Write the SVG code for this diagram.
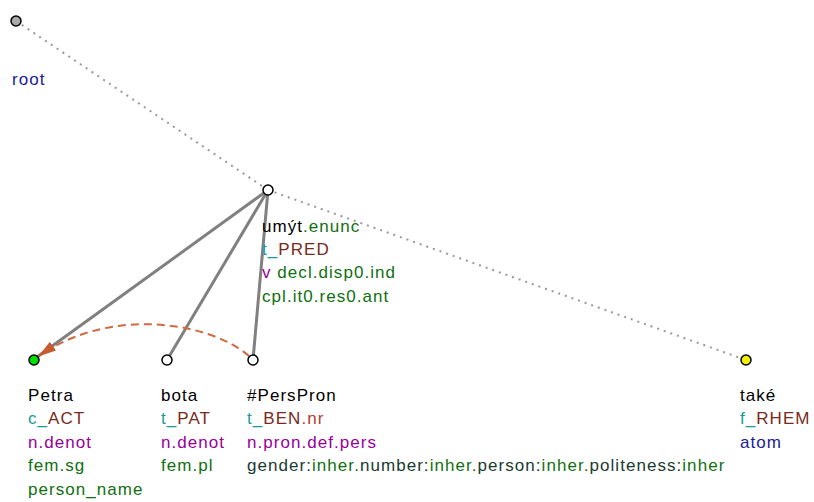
<svg xmlns="http://www.w3.org/2000/svg" width="814" height="502" viewBox="0 0 814 502">
<style>
text{font-family:"Liberation Sans",Arial,sans-serif;font-size:17px;letter-spacing:1.05px}
.k{fill:#000}.te{fill:#1a9a9a}.fn{fill:#7a2a1a}.pu{fill:#990099}.gr{fill:#107010}.nv{fill:#1a1a99}.dk{fill:#1a3a30}
.nd{stroke:#000;stroke-width:1.5}
.dot{stroke:#999;stroke-width:2;stroke-dasharray:2 5;fill:none}
.edge{stroke:#808080;stroke-width:3;fill:none;stroke-linecap:round}
</style>
<defs>
<marker id="ah" viewBox="0 0 10 10" refX="9.5" refY="5" markerWidth="9" markerHeight="9" orient="auto" markerUnits="strokeWidth">
<path d="M0,2L10,5L0,8z" fill="#c85a30"/>
</marker>
</defs>
<g id="connectors">
<line class="dot" x1="16" y1="21" x2="268" y2="190"/>
<line class="dot" x1="268" y1="190" x2="746" y2="360"/>
<line class="edge" x1="268" y1="190" x2="37" y2="357"/>
<line class="edge" x1="268" y1="190" x2="167" y2="360"/>
<line class="edge" x1="268" y1="190" x2="253" y2="360"/>
<path d="M249,356 C210,322 110,306 39,356" stroke="#d06a40" stroke-width="2" stroke-dasharray="8 5" fill="none" marker-end="url(#ah)"/>
</g>
<g id="root">
<circle cx="16" cy="21" r="5" fill="#aaa" class="nd"/>
<text x="12" y="85" class="nv">root</text>
</g>
<g id="umyt">
<circle cx="268" cy="190" r="5" fill="#fff" class="nd"/>
<text x="262" y="232"><tspan class="k">umýt</tspan><tspan class="gr">.enunc</tspan></text>
<text x="262" y="255"><tspan class="te">t_</tspan><tspan class="fn">PRED</tspan></text>
<text x="262" y="278"><tspan class="pu">v</tspan><tspan class="gr"> decl.disp0.ind</tspan></text>
<text x="262" y="302" class="gr">cpl.it0.res0.ant</text>
</g>
<g id="petra">
<circle cx="34" cy="360" r="5" fill="#00e000" class="nd"/>
<text x="28" y="401" class="k">Petra</text>
<text x="28" y="424"><tspan class="te">c_</tspan><tspan class="fn">ACT</tspan></text>
<text x="28" y="448" class="pu">n.denot</text>
<text x="28" y="471" class="gr">fem.sg</text>
<text x="28" y="495" class="gr">person_name</text>
</g>
<g id="bota">
<circle cx="167" cy="360" r="5" fill="#fff" class="nd"/>
<text x="161" y="401" class="k">bota</text>
<text x="161" y="424"><tspan class="te">t_</tspan><tspan class="fn">PAT</tspan></text>
<text x="161" y="448" class="pu">n.denot</text>
<text x="161" y="471" class="gr">fem.pl</text>
</g>
<g id="perspron">
<circle cx="253" cy="360" r="5" fill="#fff" class="nd"/>
<text x="247" y="401" class="k">#PersPron</text>
<text x="247" y="424"><tspan class="te">t_</tspan><tspan class="fn">BEN</tspan><tspan fill="#b04030">.nr</tspan></text>
<text x="247" y="448" class="pu">n.pron.def.pers</text>
<text x="247" y="471"><tspan class="dk">gender:</tspan><tspan class="gr">inher.</tspan><tspan class="dk">number:</tspan><tspan class="gr">inher.</tspan><tspan class="dk">person:</tspan><tspan class="gr">inher.</tspan><tspan class="dk">politeness:</tspan><tspan class="gr">inher</tspan></text>
</g>
<g id="take">
<circle cx="746" cy="360" r="5" fill="#f0f000" class="nd"/>
<text x="740" y="401" class="k">také</text>
<text x="740" y="424"><tspan class="te">f_</tspan><tspan class="fn">RHEM</tspan></text>
<text x="740" y="448" class="nv">atom</text>
</g>
</svg>
